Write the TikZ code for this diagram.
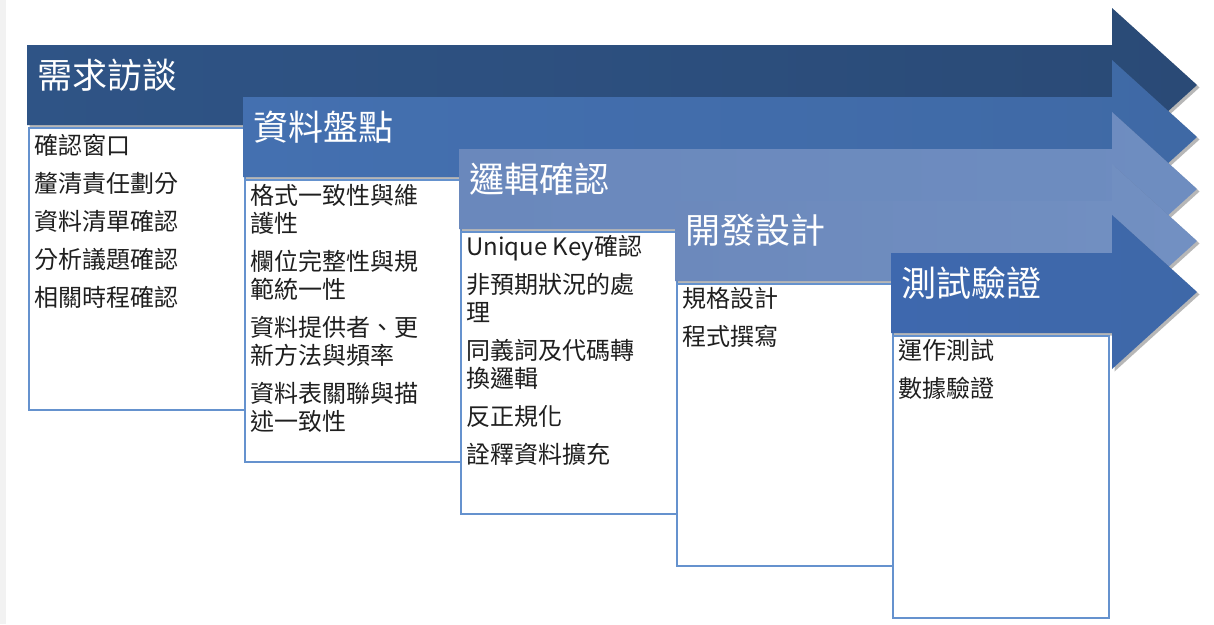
\documentclass[tikz,border=0pt]{standalone}
\usepackage{fontspec}
\setmainfont{Noto Sans CJK TC}
\usetikzlibrary{shadows}
\definecolor{stripgray}{HTML}{F2F2F2}
\definecolor{boxline}{HTML}{6592CE}
\definecolor{aOneL}{HTML}{2F5486}
\definecolor{aOneR}{HTML}{2A4A76}
\definecolor{aTwoL}{HTML}{4470B0}
\definecolor{aTwoM}{HTML}{4A7CC2}
\definecolor{aTwoR}{HTML}{3F69A5}
\definecolor{aThrL}{HTML}{6A88BC}
\definecolor{aThrM}{HTML}{7C9DD2}
\definecolor{aThrR}{HTML}{6E8DC0}
\definecolor{aFouL}{HTML}{6C89BC}
\definecolor{aFouM}{HTML}{7E9FD5}
\definecolor{aFouR}{HTML}{7290C2}
\definecolor{aFivL}{HTML}{3E68AE}
\definecolor{aFivM}{HTML}{4677C4}
\definecolor{aFivR}{HTML}{3E68A8}
\tikzset{
  arrowshadow/.style={drop shadow={shadow xshift=2.5pt,shadow yshift=-2.5pt,opacity=0.4,fill=black!70}},
  stagebox/.style={draw=boxline,line width=1.7pt,fill=white,anchor=north west,inner sep=0pt,minimum width=216pt,minimum height=282pt},
  headtext/.style={anchor=west,inner sep=0pt,text=white,font=\fontsize{35}{42}\selectfont},
  itemtext/.style={anchor=north west,inner sep=0pt,align=left,text=black!88,font=\fontsize{24}{28}\selectfont}
}
\begin{document}
\begin{tikzpicture}[x=1pt,y=-1pt]
\useasboundingbox (0,0) rectangle (1214,624);
\fill[white] (0,0) rectangle (1214,624);
\fill[stripgray] (0,0) rectangle (6,624);

% stage 1
\path[arrowshadow,left color=aOneL,right color=aOneR]
  (27,45)--(1112,45)--(1112,8)--(1197,85)--(1112,162)--(1112,125)--(27,125)--cycle;
\node[headtext] (h1) at (37,75) {需求訪談};
\node[stagebox] (b1) at (28,127) {};
\node[itemtext] (t1) at (34,134) {確認窗口\\[10pt]釐清責任劃分\\[10pt]資料清單確認\\[10pt]分析議題確認\\[10pt]相關時程確認};

% stage 2
\path[arrowshadow,left color=aTwoL,middle color=aTwoM,right color=aTwoR]
  (243,97)--(1112,97)--(1112,60)--(1197,137)--(1112,214)--(1112,177)--(243,177)--cycle;
\node[headtext] (h2) at (253,127) {資料盤點};
\node[stagebox] (b2) at (244,179) {};
\node[itemtext] (t2) at (250,184) {格式一致性與維\\護性\\[10pt]欄位完整性與規\\範統一性\\[10pt]資料提供者、更\\新方法與頻率\\[10pt]資料表關聯與描\\述一致性};

% stage 3
\path[arrowshadow,left color=aThrL,middle color=aThrM,right color=aThrR]
  (459,149)--(1112,149)--(1112,112)--(1197,189)--(1112,266)--(1112,229)--(459,229)--cycle;
\node[headtext] (h3) at (469,179) {邏輯確認};
\node[stagebox] (b3) at (460,231) {};
\node[itemtext] (t3) at (466,235) {Unique Key確認\\[10pt]非預期狀況的處\\理\\[10pt]同義詞及代碼轉\\換邏輯\\[10pt]反正規化\\[10pt]詮釋資料擴充};

% stage 4
\path[arrowshadow,left color=aFouL,middle color=aFouM,right color=aFouR]
  (675,201)--(1112,201)--(1112,164)--(1197,241)--(1112,318)--(1112,281)--(675,281)--cycle;
\node[headtext] (h4) at (685,230) {開發設計};
\node[stagebox] (b4) at (676,283) {};
\node[itemtext] (t4) at (682,287) {規格設計\\[10pt]程式撰寫};

% stage 5
\path[arrowshadow,left color=aFivL,middle color=aFivM,right color=aFivR]
  (891,253)--(1112,253)--(1112,215)--(1197,292)--(1112,369)--(1112,333)--(891,333)--cycle;
\node[headtext] (h5) at (901,283) {測試驗證};
\node[stagebox] (b5) at (892,335) {};
\node[itemtext] (t5) at (898,339) {運作測試\\[10pt]數據驗證};
\end{tikzpicture}
\end{document}
